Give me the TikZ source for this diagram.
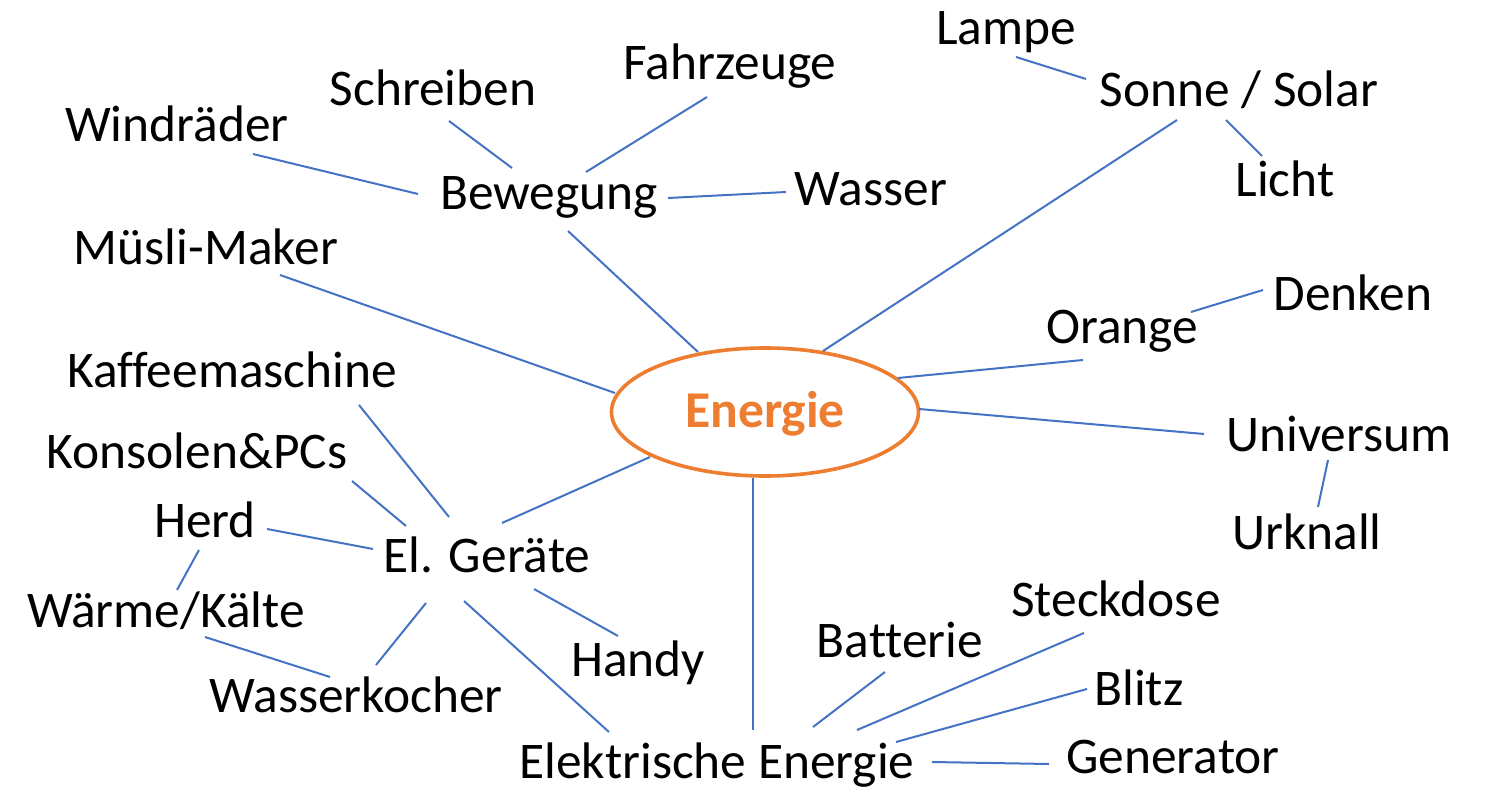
\documentclass[tikz,border=0pt]{standalone}
\usepackage{fontspec}
\setmainfont[Ligatures=NoCommon]{Carlito}
\usetikzlibrary{shapes.geometric}
\definecolor{linkblue}{HTML}{4472C4}
\definecolor{energyorange}{HTML}{ED7D31}
\tikzset{
  word/.style={anchor=base, inner sep=0pt, font=\fontsize{51.4}{60}\selectfont},
  link/.style={draw=linkblue, line width=2pt},
  hub/.style={ellipse, draw=energyorange, line width=3.6pt, inner sep=0pt,
    minimum width=307pt, minimum height=128pt, text=energyorange,
    text height=36pt, text depth=4pt,
    font=\fontsize{51.6}{60}\selectfont\bfseries}
}
\begin{document}
\begin{tikzpicture}[x=1pt,y=-1pt]
\useasboundingbox (0,0) rectangle (1500,791);
\node[hub] (energie) at (765,412) {Energie};
\node[word] (lampe) at (1006,45) {Lampe};
\node[word] (sonne) at (1239,107) {Sonne / Solar};
\node[word] (licht) at (1285,197) {Licht};
\node[word] (fahr) at (730,80) {Fahrzeuge};
\node[word] (schr) at (433,106) {Schreiben};
\node[word] (wind) at (177,142) {Windräder};
\node[word] (bew) at (549,210) {Bewegung};
\node[word] (wasser) at (871,206) {Wasser};
\node[word] (musli) at (206,265) {Müsli-Maker};
\node[word] (orange) at (1122,344) {Orange};
\node[word] (denken) at (1353,311) {Denken};
\node[word] (kaffee) at (232,388) {Kaffeemaschine};
\node[word] (univ) at (1339,452) {Universum};
\node[word] (urk) at (1307,549) {Urknall};
\node[word] (kons) at (197,468) {Konsolen\&PCs};
\node[word] (herd) at (205,537) {Herd};
\node[word] (elg) at (487,572) {El. Geräte};
\node[word] (waerme) at (166,627) {Wärme/Kälte};
\node[word] (handy) at (638,676) {Handy};
\node[word] (batt) at (900,657) {Batterie};
\node[word] (steck) at (1116,616) {Steckdose};
\node[word] (blitz) at (1139,705) {Blitz};
\node[word] (wkoch) at (356,712) {Wasserkocher};
\node[word] (elek) at (717,778) {Elektrische Energie};
\node[word] (gen) at (1173,773) {Generator};

\draw[link] ([shift={(10,12)}]lampe.base) -- ([shift={(-153,-28)}]sonne.base);
\draw[link] ([shift={(-13,13)}]sonne.base) -- ([shift={(-23,-41)}]licht.base);
\draw[link] ([shift={(-62,13)}]sonne.base) -- ([shift={(58,-61)}]energie.center);
\draw[link] ([shift={(-23,17)}]fahr.base) -- ([shift={(37,-38)}]bew.base);
\draw[link] ([shift={(16,15)}]schr.base) -- ([shift={(-37,-42)}]bew.base);
\draw[link] ([shift={(76,12)}]wind.base) -- ([shift={(-131,-16)}]bew.base);
\draw[link] ([shift={(119,-12)}]bew.base) -- ([shift={(-85,-14)}]wasser.base);
\draw[link] ([shift={(19,21)}]bew.base) -- ([shift={(-67,-60)}]energie.center);
\draw[link] ([shift={(74,10)}]musli.base) -- ([shift={(-150,-19)}]energie.center);
\draw[link] ([shift={(133,-34)}]energie.center) -- ([shift={(-39,16)}]orange.base);
\draw[link] ([shift={(69,-32)}]orange.base) -- ([shift={(-90,-21)}]denken.base);
\draw[link] ([shift={(154,-3)}]energie.center) -- ([shift={(-135,-18)}]univ.base);
\draw[link] ([shift={(-11,8)}]univ.base) -- ([shift={(11,-42)}]urk.base);
\draw[link] ([shift={(-115,45)}]energie.center) -- ([shift={(15,-49)}]elg.base);
\draw[link] ([shift={(-12,66)}]energie.center) -- ([shift={(36,-48)}]elek.base);
\draw[link] ([shift={(127,17)}]kaffee.base) -- ([shift={(-38,-55)}]elg.base);
\draw[link] ([shift={(155,13)}]kons.base) -- ([shift={(-81,-46)}]elg.base);
\draw[link] ([shift={(62,-8)}]herd.base) -- ([shift={(-114,-23)}]elg.base);
\draw[link] ([shift={(-6,13)}]herd.base) -- ([shift={(11,-37)}]waerme.base);
\draw[link] ([shift={(39,10)}]waerme.base) -- ([shift={(-26,-35)}]wkoch.base);
\draw[link] ([shift={(-61,31)}]elg.base) -- ([shift={(20,-47)}]wkoch.base);
\draw[link] ([shift={(47,17)}]elg.base) -- ([shift={(-20,-40)}]handy.base);
\draw[link] ([shift={(-23,29)}]elg.base) -- ([shift={(-108,-46)}]elek.base);
\draw[link] ([shift={(-15,15)}]batt.base) -- ([shift={(96,-51)}]elek.base);
\draw[link] ([shift={(-32,17)}]steck.base) -- ([shift={(140,-48)}]elek.base);
\draw[link] ([shift={(-52,-16)}]blitz.base) -- ([shift={(179,-36)}]elek.base);
\draw[link] ([shift={(215,-16)}]elek.base) -- ([shift={(-124,-9)}]gen.base);
\end{tikzpicture}
\end{document}
